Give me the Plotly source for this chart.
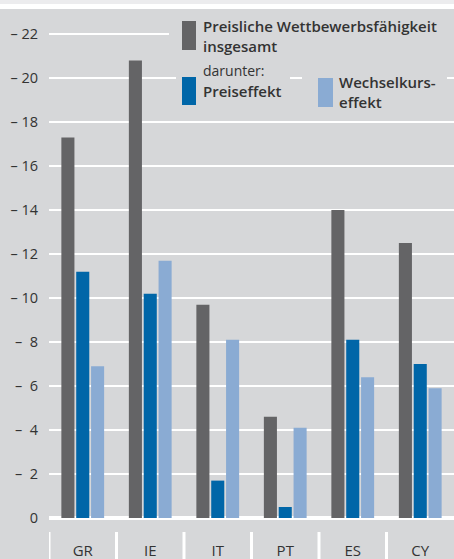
import plotly.graph_objects as go

categories = ["GR", "IE", "IT", "PT", "ES", "CY"]
gesamt = [-17.3, -20.8, -9.7, -4.6, -14.0, -12.5]
preiseffekt = [-11.2, -10.2, -1.7, -0.5, -8.1, -7.0]
wechselkurs = [-6.9, -11.7, -8.1, -4.1, -6.4, -5.9]
tick_vals = [0, -2, -4, -6, -8, -10, -12, -14, -16, -18, -20, -22]
tick_text = ["0", "–  2", "–  4", "–  6", "–  8", "– 10", "– 12", "– 14", "– 16", "– 18", "– 20", "– 22"]

BG = "#d6d7d9"
C1, C2, C3 = "#646466", "#0066a8", "#8aabd3"
FONT = "Open Sans"
TXT = "#333333"
W, H = 454, 559
ML, MR, MT, MB = 49, 0, 9, 41

fig = go.Figure()
for vals, col in [(gesamt, C1), (preiseffekt, C2), (wechselkurs, C3)]:
    fig.add_bar(x=categories, y=vals, marker=dict(color=col, line=dict(width=0)),
                showlegend=False, hoverinfo="skip")

ph = H - MT - MB
pw = W - ML - MR
def px(x):
    return (x - ML) / pw
def py(y):
    return (H - MB - y) / ph

shapes = []
# top strips
shapes.append(dict(type="rect", xref="paper", yref="paper", x0=px(0), x1=px(W), y0=py(0), y1=py(4),
                   fillcolor="#ececee", line=dict(width=0), layer="above"))
shapes.append(dict(type="rect", xref="paper", yref="paper", x0=px(0), x1=px(W), y0=py(4), y1=py(9),
                   fillcolor="#ffffff", line=dict(width=0), layer="above"))
# legend background boxes covering gridlines
for (x0, x1, y0, y1) in [(169, 454, 14, 58), (176, 290, 62, 110), (302, 447, 62, 110)]:
    shapes.append(dict(type="rect", xref="paper", yref="paper", x0=px(x0), x1=px(x1), y0=py(y1), y1=py(y0),
                       fillcolor=BG, line=dict(width=0), layer="above"))
# legend swatches
for (x0, x1, y0, y1, c) in [(182, 196, 21, 50, C1), (182, 196, 77, 105, C2), (318, 333, 78, 107, C3)]:
    shapes.append(dict(type="rect", xref="paper", yref="paper", x0=px(x0), x1=px(x1), y0=py(y1), y1=py(y0),
                       fillcolor=c, line=dict(width=0), layer="above"))
# category separators
for i in range(len(categories)):
    shapes.append(dict(type="line", xref="x", yref="paper", x0=i - 0.5, x1=i - 0.5,
                       y0=py(559), y1=py(532), line=dict(color="white", width=3)))

annotations = []
def ann(text, x, y, weight=400, size=15.5):
    annotations.append(dict(text=text, xref="paper", yref="paper", x=px(x), y=py(y),
                            xanchor="left", yanchor="middle", showarrow=False, align="left",
                            font=dict(family=FONT, size=size, color=TXT, weight=weight)))
ann("Preisliche Wettbewerbsfähigkeit<br>insgesamt", 201, 35.5, 600, 15)
ann("darunter:", 201, 70, 400, 14)
ann("Preiseffekt", 201, 91, 600, 15)
ann("Wechselkurs-<br>effekt", 337, 92, 600, 15)

fig.update_layout(
    width=W, height=H,
    margin=dict(l=ML, r=MR, t=MT, b=MB, pad=0, autoexpand=False),
    paper_bgcolor=BG, plot_bgcolor=BG,
    barmode="group", bargap=0.34, bargroupgap=0.12,
    font=dict(family=FONT, size=14, color=TXT),
    shapes=shapes, annotations=annotations,
    xaxis=dict(range=[-0.5, 5.5], showgrid=False, zeroline=False, showline=False,
               ticks="", tickfont=dict(size=15, color=TXT), ticklabelstandoff=22, fixedrange=True,
               automargin=False),
    yaxis=dict(range=[0, -23.14], tickvals=tick_vals, ticktext=tick_text, showgrid=True,
               gridcolor="white", gridwidth=2, zeroline=True, zerolinecolor="white", zerolinewidth=4,
               showline=False, ticks="", ticklabelstandoff=10, tickfont=dict(size=14.5, color=TXT),
               fixedrange=True, automargin=False),
)
fig.write_html("out.html", config={"displayModeBar": False},
               post_script="document.body.style.margin='0';document.body.style.overflow='hidden';")
